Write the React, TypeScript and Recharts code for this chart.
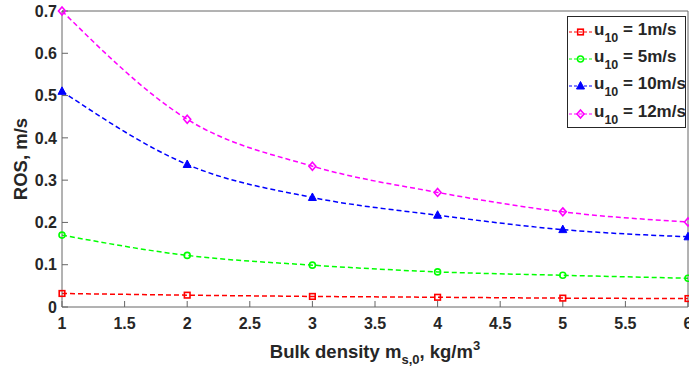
import React from "react";
import { LineChart, Line, XAxis, YAxis, Legend } from "recharts";

// bulk density m_s,0 (kg/m^3) and rate of spread (m/s) per wind speed
const density = [1, 2, 3, 4, 5, 6];
const ros1 = [0.032, 0.028, 0.025, 0.023, 0.021, 0.02];
const ros5 = [0.17, 0.122, 0.099, 0.083, 0.075, 0.068];
const ros10 = [0.51, 0.337, 0.259, 0.217, 0.183, 0.166];
const ros12 = [0.7, 0.444, 0.333, 0.271, 0.225, 0.201];

const xTicks = [1, 1.5, 2, 2.5, 3, 3.5, 4, 4.5, 5, 5.5, 6];
const yTicks = [0, 0.1, 0.2, 0.3, 0.4, 0.5, 0.6, 0.7];

const FONT = '"Liberation Sans", Arial, Helvetica, sans-serif';
const INK = "#262626";
const AXIS = "#666666";

const series = [
  { key: "u1", speed: "1", color: "#ff0000", marker: "square" },
  { key: "u5", speed: "5", color: "#00ff00", marker: "circle" },
  { key: "u10", speed: "10", color: "#0000ff", marker: "triangle" },
  { key: "u12", speed: "12", color: "#ff00ff", marker: "diamond" },
];

const data = density.map((d, i) => ({
  density: d,
  u1: ros1[i],
  u5: ros5[i],
  u10: ros10[i],
  u12: ros12[i],
}));

function Marker({ cx, cy, marker, color }: any) {
  if (cx == null || cy == null) return null;
  switch (marker) {
    case "square":
      return <rect x={cx - 2.8} y={cy - 2.8} width={5.6} height={5.6} fill="none" stroke={color} strokeWidth={1.6} />;
    case "circle":
      return <circle cx={cx} cy={cy} r={3} fill="none" stroke={color} strokeWidth={1.6} />;
    case "triangle":
      return (
        <polygon
          points={`${cx},${cy - 4.5} ${cx - 4},${cy + 3} ${cx + 4},${cy + 3}`}
          fill={color}
          stroke={color}
        />
      );
    default:
      return (
        <polygon
          points={`${cx},${cy - 4} ${cx + 3.5},${cy} ${cx},${cy + 4} ${cx - 3.5},${cy}`}
          fill="none"
          stroke={color}
          strokeWidth={1.6}
        />
      );
  }
}

function XTitle({ viewBox }: any) {
  const cx = viewBox.x + viewBox.width / 2;
  return (
    <text x={cx} y={358} textAnchor="middle" fill={INK} fontFamily={FONT} fontWeight={700} fontSize={18.5}>
      <tspan>Bulk density m</tspan>
      <tspan dy={6} fontSize={13}>s,0</tspan>
      <tspan dy={-6}>, kg/m</tspan>
      <tspan dy={-8} fontSize={13}>3</tspan>
    </text>
  );
}

function YTitle() {
  const cy = 159;
  return (
    <text
      x={27}
      y={cy}
      transform={`rotate(-90, 27, ${cy})`}
      textAnchor="middle"
      fill={INK}
      fontFamily={FONT}
      fontWeight={700}
      fontSize={18.5}
    >
      ROS, m/s
    </text>
  );
}

function LegendBox() {
  return (
    <div
      style={{
        border: `1px solid ${INK}`,
        background: "#fff",
        boxSizing: "border-box",
        width: 119,
        height: 112,
        paddingTop: 3,
        fontFamily: FONT,
        fontWeight: 700,
        color: INK,
      }}
    >
      {series.map((s) => (
        <div key={s.key} style={{ display: "flex", alignItems: "flex-start", height: 27.2 }}>
          <svg width={25} height={26} style={{ flex: "none" }}>
            <line x1={1} y1={12} x2={24} y2={12} stroke={s.color} strokeWidth={1.2} strokeDasharray="3 2" />
            <Marker cx={12.5} cy={12} marker={s.marker} color={s.color} />
          </svg>
          <span style={{ fontSize: 17, lineHeight: "20px", whiteSpace: "nowrap", marginLeft: 1 }}>
            u<sub style={{ fontSize: 12.5, verticalAlign: "-7px" }}>10</sub> = {s.speed}m/s
          </span>
        </div>
      ))}
    </div>
  );
}

export default function App() {
  return (
    <div style={{ position: "absolute", left: 0, top: 0, width: 689, height: 375, background: "#fff" }}>
      <LineChart width={689} height={375} data={data} margin={{ top: 10, right: 0, bottom: 0, left: 0 }}>
        <XAxis
          xAxisId="b"
          dataKey="density"
          type="number"
          domain={[1, 6]}
          ticks={xTicks}
          interval={0}
          height={68}
          tickSize={-6}
          tickMargin={17}
          stroke={AXIS}
          tick={{ fill: INK, fontSize: 16, fontWeight: 700, fontFamily: FONT }}
          label={{ content: XTitle }}
        />
        <XAxis
          xAxisId="t"
          orientation="top"
          dataKey="density"
          type="number"
          domain={[1, 6]}
          ticks={xTicks}
          interval={0}
          height={1}
          tickSize={-6}
          tick={false}
          stroke={AXIS}
        />
        <YAxis
          yAxisId="l"
          type="number"
          domain={[0, 0.7]}
          ticks={yTicks}
          interval={0}
          width={62}
          tickSize={-6}
          tickMargin={11}
          stroke={AXIS}
          tick={{ fill: INK, fontSize: 16, fontWeight: 700, fontFamily: FONT }}
          label={{ content: YTitle }}
        />
        <YAxis
          yAxisId="r"
          orientation="right"
          type="number"
          domain={[0, 0.7]}
          ticks={yTicks}
          interval={0}
          width={1}
          tickSize={-6}
          tick={false}
          stroke={AXIS}
        />
        {series.map((s) => (
          <Line
            key={s.key}
            xAxisId="b"
            yAxisId="l"
            type="monotone"
            dataKey={s.key}
            stroke={s.color}
            strokeWidth={1.5}
            strokeDasharray="5 3"
            isAnimationActive={false}
            dot={(p: any) => <Marker key={`${s.key}-${p.index}`} cx={p.cx} cy={p.cy} marker={s.marker} color={s.color} />}
            activeDot={false}
          />
        ))}
        <Legend
          layout="vertical"
          align="center"
          verticalAlign="middle"
          wrapperStyle={{ left: 567, top: 16, width: 119, height: 112 }}
          content={() => <LegendBox />}
        />
      </LineChart>
    </div>
  );
}
